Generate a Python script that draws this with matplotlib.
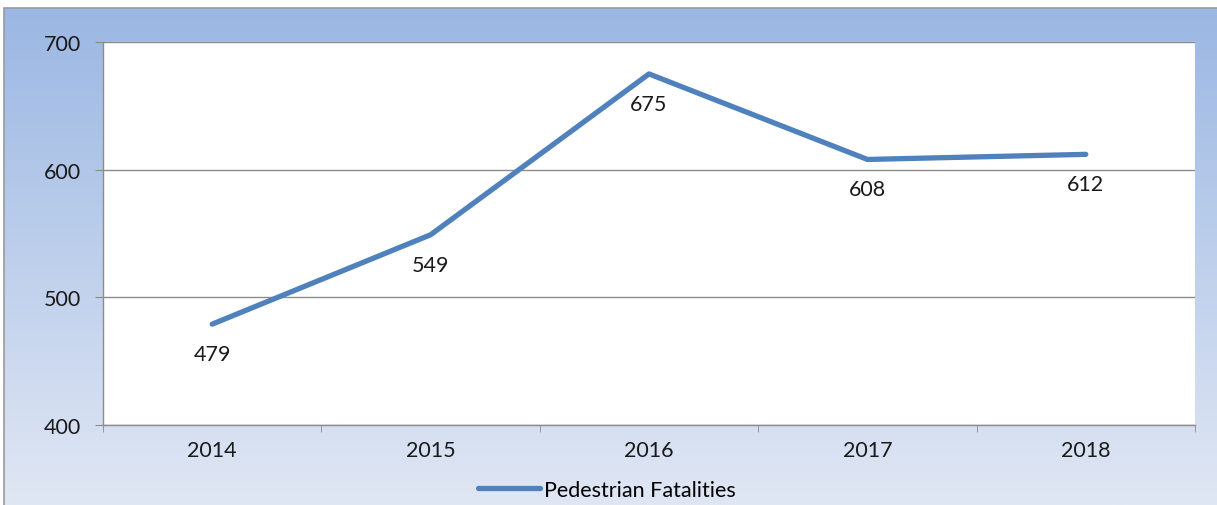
import numpy as np
import matplotlib.pyplot as plt
from matplotlib.patches import Rectangle

years = ['2014', '2015', '2016', '2017', '2018']
fatalities = [479, 549, 675, 608, 612]
series_name = 'Pedestrian Fatalities'

plt.rcParams['font.family'] = ['Lato', 'DejaVu Sans']

fig = plt.figure(figsize=(12.17, 5.06), dpi=100)
fig.patch.set_facecolor('white')

# gradient background box
bg = fig.add_axes([4 / 1217, 0, 1 - 4 / 1217, 1 - 9 / 506])
top = np.array([155, 183, 227]) / 255
bot = np.array([224, 231, 244]) / 255
t = np.linspace(0, 1, 256)[:, None]
grad = (top * (1 - t) + bot * t)[:, None, :]
bg.imshow(grad, aspect='auto', extent=[0, 1, 0, 1])
bg.set_xlim(0, 1)
bg.set_ylim(0, 1)
bg.axis('off')
fig.add_artist(Rectangle((4 / 1217, -0.01), 1.01, 1 - 9 / 506 + 0.01, transform=fig.transFigure,
                         fill=False, edgecolor='#9a9a9a', linewidth=1.2))

ax = fig.add_axes([103 / 1217, 80 / 506, 1092 / 1217, 383 / 506])
ax.set_facecolor('white')
x = np.arange(len(years))
ax.plot(x, fatalities, color='#4f81bd', linewidth=3.8, solid_capstyle='round',
        label=series_name, zorder=3)
for xi, v in zip(x, fatalities):
    ax.annotate(str(v), (xi, v), xytext=(0, -21.5), textcoords='offset points',
                ha='center', va='center', fontsize=15.5, color='#1a1a1a')

ax.set_xlim(-0.5, len(years) - 0.5)
ax.set_ylim(400, 700)
ax.set_yticks([400, 500, 600, 700])
ax.yaxis.grid(True, color='#8c8c8c', linewidth=1)
ax.set_axisbelow(True)
ax.set_xticks(x)
ax.set_xticklabels(years)
ax.set_xticks(np.arange(-0.5, len(years)), minor=True)
ax.tick_params(axis='x', which='major', length=0, pad=11, labelsize=15.5, labelcolor='#1a1a1a')
ax.tick_params(axis='x', which='minor', length=5, color='#8c8c8c', direction='out')
ax.tick_params(axis='y', length=6, color='#8c8c8c', pad=10, labelsize=15.5, labelcolor='#1a1a1a')
for s in ['top', 'right']:
    ax.spines[s].set_visible(False)
for s in ['left', 'bottom']:
    ax.spines[s].set_color('#8c8c8c')
    ax.spines[s].set_linewidth(1)

fig.legend(loc='center left', bbox_to_anchor=(478 / 1217, 1 - 491 / 506), frameon=False,
           fontsize=15.5, handlelength=2.9, handletextpad=0.15, borderpad=0, borderaxespad=0)

fig.savefig('out.png', dpi=100)
